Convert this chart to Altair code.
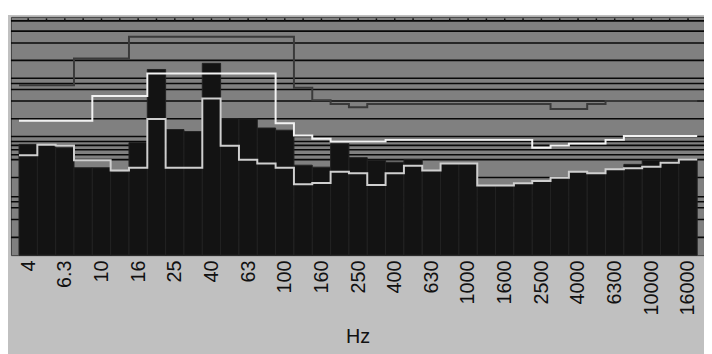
import altair as alt
import pandas as pd

# third-octave bands (Hz)
bands = ["4", "5", "6.3", "8", "10", "12.5", "16", "20", "25", "31.5", "40", "50",
         "63", "80", "100", "125", "160", "200", "250", "315", "400", "500", "630",
         "800", "1000", "1250", "1600", "2000", "2500", "3150", "4000", "5000",
         "6300", "8000", "10000", "12500", "16000"]

tick_labels = ["4", "6.3", "10", "16", "25", "40", "63", "100", "160", "250", "400",
               "630", "1000", "1600", "2500", "4000", "6300", "10000", "16000"]

# levels (dB)
bar_level = [56.0, 55.5, 54.3, 44.2, 44.2, 42.2, 56.9, 93.9, 63.5, 62.5, 97.0, 69.0,
             68.9, 64.3, 63.2, 45.5, 44.5, 56.4, 49.3, 48.0, 47.0, 48.4, 42.8, 46.3,
             46.3, 35.0, 35.0, 36.3, 37.4, 39.0, 42.0, 41.3, 43.3, 45.9, 48.0, 48.0, 48.4]

lower_white = [50.5, 55.8, 55.5, 48.0, 48.0, 42.8, 44.2, 68.9, 44.2, 44.2, 79.2, 55.3,
               48.3, 46.4, 44.2, 35.8, 36.5, 42.2, 41.4, 35.5, 41.4, 45.2, 42.8, 46.4,
               46.4, 35.2, 35.2, 36.4, 37.5, 39.2, 42.2, 41.4, 43.4, 43.9, 44.7, 46.7, 48.4]

upper_white = [68.0, 68.0, 68.0, 68.0, 80.5, 80.5, 80.5, 91.9, 91.9, 91.9, 91.9, 91.9,
               91.9, 91.9, 66.7, 60.5, 58.9, 57.5, 57.5, 57.5, 58.3, 58.3, 58.3, 58.3,
               58.3, 58.3, 58.3, 58.3, 54.3, 55.5, 56.4, 56.4, 58.3, 60.3, 60.3, 60.3, 60.3]

dark_line = [85.9, 85.9, 85.9, 99.4, 99.4, 99.4, 110.5, 110.5, 110.5, 110.5, 110.5, 110.5,
             110.5, 110.5, 110.5, 84.7, 78.4, 76.5, 74.8, 76.5, 76.5, 76.5, 76.5, 76.5,
             76.5, 76.5, 76.5, 76.5, 76.5, 73.9, 73.9, 76.5, 78.0, 78.0, 78.0, 78.0, 78.0]

grid_levels = [118.5, 113.3, 107.3, 98.5, 89.5, 86.8, 83.8, 78.0, 69.0, 60.0, 57.5,
               55.5, 53.3, 50.8, 48.3, 39.3, 29.5, 27.0, 24.0, 18.0, 9.0]

W, H = 701, 241
FONT = "Liberation Sans"

idx = list(range(len(bands)))
bars_df = pd.DataFrame({"band": bands, "i": idx,
                        "x0": [i - 0.5 for i in idx], "x1": [i + 0.5 for i in idx],
                        "level": bar_level})


def step_df(values):
    xs = [i - 0.5 for i in idx] + [len(idx) - 0.5]
    ys = list(values) + [values[-1]]
    return pd.DataFrame({"x": xs, "y": ys})


xscale = alt.Scale(domain=[-0.9385, 36.872], nice=False, zero=False)
yscale = alt.Scale(domain=[0, 120.5], nice=False, zero=False)

label_expr = "[" + ",".join("'%s'" % t for t in tick_labels) + "][round(datum.value/2)]"
xaxis = alt.Axis(values=list(range(0, len(bands), 2)), labelExpr=label_expr,
                 labelAngle=270, labelAlign="right", labelBaseline="middle",
                 labelPadding=5, labelFont=FONT, labelFontSize=20, labelColor="#111111",
                 labelOverlap=False, labelFlush=False,
                 ticks=False, domain=False, grid=False, zindex=1,
                 title="Hz", titleFont=FONT, titleFontSize=20, titleFontWeight="normal",
                 titleColor="#111111", titleY=88, titleBaseline="alphabetic")

white_strip = alt.Chart(pd.DataFrame({"a": [0]})).mark_rect(color="white").encode(
    x=alt.value(-6), x2=alt.value(W + 4), y=alt.value(-12), y2=alt.value(-2))

grid = alt.Chart(pd.DataFrame({"g": grid_levels})).mark_rule(
    color="#080808", strokeWidth=1.6).encode(
    y=alt.Y("g:Q", scale=yscale, axis=None), x=alt.value(0), x2=alt.value(W))

bars = alt.Chart(bars_df).mark_rect(color="#131313", stroke="#222222", strokeWidth=1).encode(
    x=alt.X("x0:Q", scale=xscale, axis=xaxis),
    x2="x1:Q",
    y=alt.Y("level:Q", scale=yscale, axis=None),
    y2=alt.datum(0),
)


def step_line(values, color, width):
    return alt.Chart(step_df(values)).mark_line(
        interpolate="step-after", color=color, strokeWidth=width).encode(
        x=alt.X("x:Q", scale=xscale, axis=xaxis),
        y=alt.Y("y:Q", scale=yscale, axis=None))


dark = step_line(dark_line, "#3a3a3a", 2)
upper = step_line(upper_white, "#f2f2f2", 2)
lower = step_line(lower_white, "#cfcfcf", 2)

top_ticks = alt.Chart(bars_df).mark_rule(color="#111111", strokeWidth=1.5).encode(
    x=alt.X("i:Q", scale=xscale, axis=xaxis), y=alt.value(1.5), y2=alt.value(4))

chart = alt.layer(white_strip, grid, bars, dark, upper, lower, top_ticks).properties(
    width=W, height=H,
    padding={"left": 3, "top": 7, "right": 0, "bottom": 98},
    autosize=alt.AutoSizeParams(type="none"),
    background="#c0c0c0",
).configure_view(fill="#808080", stroke="#404040", strokeWidth=1)

chart.save("out.html", embed_options={"renderer": "svg", "actions": False})
